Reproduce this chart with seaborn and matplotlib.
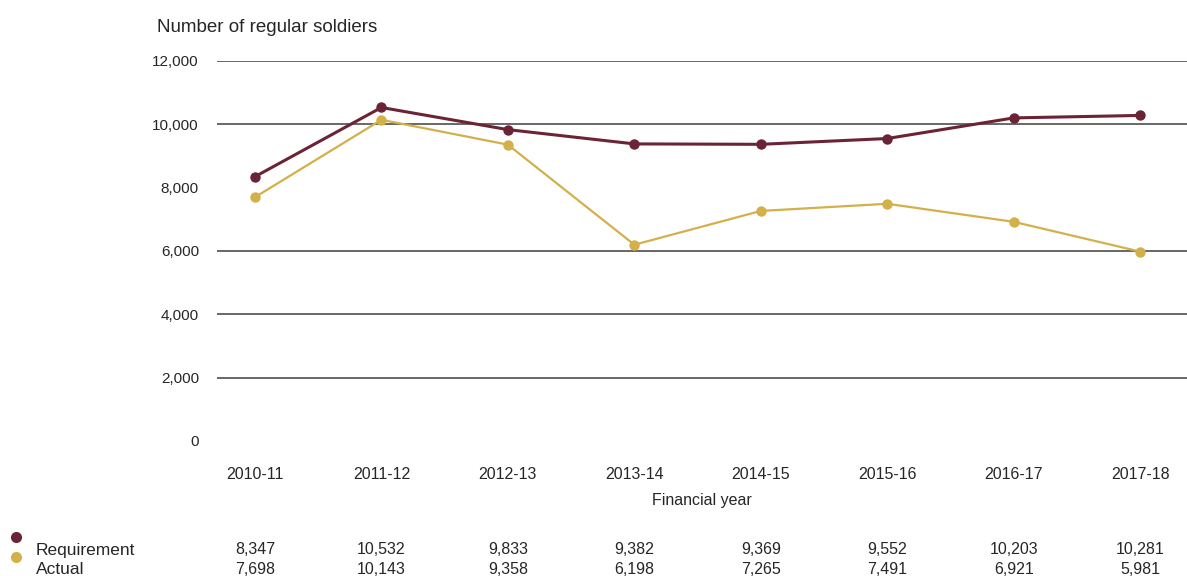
import numpy as np
import pandas as pd
import matplotlib
matplotlib.use("Agg")
import matplotlib.pyplot as plt
from matplotlib.lines import Line2D
from matplotlib.transforms import blended_transform_factory
import seaborn as sns

# ---- data ----
years = ["2010-11", "2011-12", "2012-13", "2013-14", "2014-15", "2015-16", "2016-17", "2017-18"]
requirement = [8347, 10532, 9833, 9382, 9369, 9552, 10203, 10281]
actual = [7698, 10143, 9358, 6198, 7265, 7491, 6921, 5981]
series_names = ["Requirement", "Actual"]
y_ticks = [0, 2000, 4000, 6000, 8000, 10000, 12000]
grid_values = [2000, 4000, 6000, 10000, 12000]

colors = {"Requirement": "#6B2436", "Actual": "#D3B04A"}
widths = {"Requirement": 2.2, "Actual": 1.6}
text_color = "#262626"

sns.set_theme(style="white")
plt.rcParams['font.family'] = ['Liberation Sans', 'DejaVu Sans']

df = pd.DataFrame({
    "pos": list(range(len(years))) * 2,
    "value": requirement + actual,
    "series": [series_names[0]] * len(years) + [series_names[1]] * len(years),
})

W, H = 1187, 576
fig = plt.figure(figsize=(W / 100, H / 100), dpi=100)
fig.patch.set_facecolor("white")
ax = fig.add_axes([217 / W, 1 - 441 / H, 1 - 217 / W, (441 - 61) / H])
ax.set_facecolor("white")

for v in grid_values:
    ax.axhline(v, color="#5c5c5c", lw=1.3, zorder=0)

sns.lineplot(data=df, x="pos", y="value", hue="series", palette=colors,
             size="series", sizes=widths, marker="o", markersize=7.5,
             markeredgewidth=0, legend=False, ax=ax)

ax.set_xlim(-0.30, 7.37)
ax.set_ylim(0, 12000)
for s in ax.spines.values():
    s.set_visible(False)

ax.set_yticks(y_ticks)
ax.set_yticklabels([f"{v:,}" for v in y_ticks])
ax.set_xticks(range(len(years)))
ax.set_xticklabels(years)
ax.tick_params(axis="y", length=0, pad=13, labelsize=11, labelcolor=text_color)
ax.tick_params(axis="x", length=0, pad=19, labelsize=11.5, labelcolor=text_color)
ax.set_ylabel("")
ax.set_xlabel("Financial year", fontsize=11.5, color=text_color, labelpad=8)
ax.grid(False)

fig.text(157 / W, 1 - 27 / H, "Number of regular soldiers", ha="left", va="center",
         fontsize=13.5, color=text_color)

trans = blended_transform_factory(ax.transData, fig.transFigure)
rows = [(series_names[0], requirement, 550, 537), (series_names[1], actual, 569, 557)]
for name, vals, ty, my in rows:
    fig.text(36 / W, 1 - ty / H, name, ha="left", va="center", fontsize=12.5, color=text_color)
    fig.add_artist(Line2D([16 / W], [1 - my / H], marker="o", markersize=8,
                          color=colors[name], markeredgewidth=0, transform=fig.transFigure))
    for i, v in enumerate(vals):
        ax.text(i, 1 - ty / H, f"{v:,}", transform=trans, ha="center", va="center",
                fontsize=11.5, color=text_color)

fig.savefig("out.png", dpi=100, facecolor="white")
